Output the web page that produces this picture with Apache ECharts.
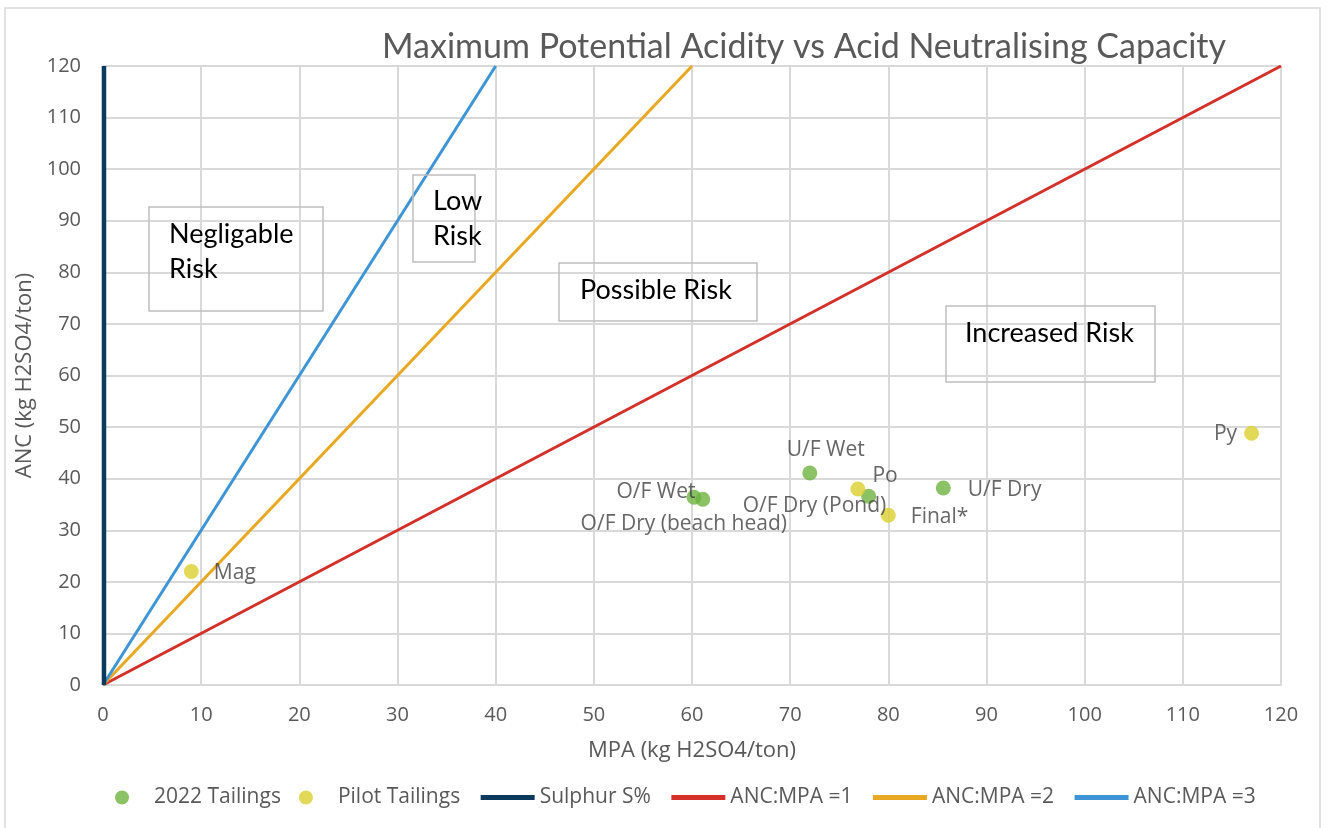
<!DOCTYPE html>
<html>
<head>
<meta charset="utf-8">
<script src="https://cdn.jsdelivr.net/npm/echarts@6/dist/echarts.min.js"></script>
<style>html,body{margin:0;padding:0;background:#fff;}#c{width:1330px;height:828px;}</style>
</head>
<body>
<div id="c"></div>
<script>
// Data
const tailings2022Names = ['O/F Wet', 'O/F Dry (beach head)', 'U/F Wet', 'O/F Dry (Pond)', 'U/F Dry'];
const tailings2022MPA = [60.2, 61.1, 72.0, 78.0, 85.6];
const tailings2022ANC = [36.4, 36.0, 41.1, 36.6, 38.2];

const pilotNames = ['Mag', 'Po', 'Final*', 'Py'];
const pilotMPA = [9.0, 76.9, 80.0, 117.0];
const pilotANC = [22.0, 38.0, 32.9, 48.8];

const sulphurLine = [[0.1, 0], [0.1, 120]];
const ratio1Line = [[0, 0], [120, 120]];
const ratio2Line = [[0, 0], [60, 120]];
const ratio3Line = [[0, 0], [40, 120]];

const xTicks = [0, 10, 20, 30, 40, 50, 60, 70, 80, 90, 100, 110, 120];
const yTicks = [0, 10, 20, 30, 40, 50, 60, 70, 80, 90, 100, 110, 120];

// label layout (styles)
const labelLayout2022 = [
  { position: 'left', offset: [14, -5] },
  { position: 'bottom', offset: [-19, 2] },
  { position: 'top', offset: [16, 0] },
  { position: 'left', offset: [30, 10] },
  { position: 'right', offset: [12, 2] }
];
const labelLayoutPilot = [
  { position: 'right', offset: [10, 1] },
  { position: 'right', offset: [2, -13] },
  { position: 'right', offset: [10, 2] },
  { position: 'left', offset: [-2, 1] }
];

const FONT = 'Open Sans';
const labelStyle = { show: true, color: '#404040', fontSize: 21, fontFamily: FONT };

function buildPoints(names, xs, ys, layouts) {
  return names.map((n, i) => ({
    name: n,
    value: [xs[i], ys[i]],
    label: Object.assign({}, labelStyle, { formatter: n }, layouts[i])
  }));
}

const chart = echarts.init(document.getElementById('c'));
const gray = '#595959';
const boxStyle = { fill: 'rgba(0,0,0,0)', stroke: '#bfbfbf', lineWidth: 1.5 };
const boxText = { fill: '#000', fontSize: 27, fontFamily: 'Lato', lineHeight: 35 };
const hiddenSymbol = { opacity: 0 };

chart.setOption({
  animation: false,
  backgroundColor: '#fff',
  title: {
    text: 'Maximum Potential Acidity vs Acid Neutralising Capacity',
    left: 799, top: 25, textAlign: 'center',
    textStyle: { color: gray, fontSize: 34, fontWeight: 'normal', fontFamily: 'Lato' }
  },
  grid: { left: 103, right: 49, top: 66, bottom: 143, containLabel: false },
  xAxis: {
    type: 'value', min: 0, max: 120, interval: 10,
    name: 'MPA (kg H2SO4/ton)', nameLocation: 'middle', nameGap: 55,
    nameTextStyle: { color: gray, fontSize: 22, fontFamily: FONT },
    axisLine: { show: true, lineStyle: { color: '#d9d9d9', width: 2 } },
    axisTick: { show: false },
    axisLabel: { color: gray, fontSize: 20, fontFamily: FONT, margin: 20,
      formatter: v => xTicks.includes(v) ? String(v) : '' },
    splitLine: { show: true, lineStyle: { color: '#d9d9d9', width: 2 } }
  },
  yAxis: {
    type: 'value', min: 0, max: 120, interval: 10,
    name: 'ANC (kg H2SO4/ton)', nameLocation: 'middle', nameGap: 64,
    nameTextStyle: { color: gray, fontSize: 22, fontFamily: FONT },
    axisLine: { show: false },
    axisTick: { show: false },
    axisLabel: { color: gray, fontSize: 20, fontFamily: FONT, margin: 22,
      formatter: v => yTicks.includes(v) ? String(v) : '' },
    splitLine: { show: true, lineStyle: { color: '#d9d9d9', width: 2 } }
  },
  legend: {
    bottom: 15, left: 110, itemGap: 18, itemWidth: 54, itemHeight: 14,
    textStyle: { color: gray, fontSize: 21, fontFamily: FONT },
    data: [
      { name: '2022 Tailings', icon: 'circle' },
      { name: 'Pilot Tailings', icon: 'circle' },
      { name: 'Sulphur S%', itemStyle: hiddenSymbol, lineStyle: { width: 5 } },
      { name: 'ANC:MPA =1', itemStyle: hiddenSymbol, lineStyle: { width: 5 } },
      { name: 'ANC:MPA =2', itemStyle: hiddenSymbol, lineStyle: { width: 5 } },
      { name: 'ANC:MPA =3', itemStyle: hiddenSymbol, lineStyle: { width: 5 } }
    ]
  },
  graphic: [
    { type: 'rect', shape: { x: 5, y: 8, width: 1315, height: 830 }, style: { fill: 'none', stroke: '#d9d9d9', lineWidth: 1.5 }, z: -1 },
    { type: 'rect', shape: { x: 149, y: 207, width: 174, height: 104 }, style: boxStyle, z: 10 },
    { type: 'text', left: 169, top: 217, style: Object.assign({ text: 'Negligable\nRisk' }, boxText), z: 11 },
    { type: 'rect', shape: { x: 413, y: 175, width: 62, height: 87 }, style: boxStyle, z: 10 },
    { type: 'text', left: 433, top: 184, style: Object.assign({ text: 'Low\nRisk' }, boxText), z: 11 },
    { type: 'rect', shape: { x: 559, y: 263, width: 198, height: 58 }, style: boxStyle, z: 10 },
    { type: 'text', left: 580, top: 273, style: Object.assign({ text: 'Possible Risk' }, boxText), z: 11 },
    { type: 'rect', shape: { x: 946, y: 306, width: 209, height: 76 }, style: boxStyle, z: 10 },
    { type: 'text', left: 965, top: 316, style: Object.assign({ text: 'Increased Risk' }, boxText), z: 11 }
  ],
  series: [
    {
      name: '2022 Tailings', type: 'scatter', symbolSize: 15, z: 5,
      itemStyle: { color: '#6db33f' },
      data: buildPoints(tailings2022Names, tailings2022MPA, tailings2022ANC, labelLayout2022)
    },
    {
      name: 'Pilot Tailings', type: 'scatter', symbolSize: 15, z: 5,
      itemStyle: { color: '#dccf2f' },
      data: buildPoints(pilotNames, pilotMPA, pilotANC, labelLayoutPilot)
    },
    { name: 'Sulphur S%', type: 'line', data: sulphurLine, symbol: 'none', z: 4,
      lineStyle: { color: '#0b3a5c', width: 4.5 }, itemStyle: { color: '#0b3a5c' } },
    { name: 'ANC:MPA =1', type: 'line', data: ratio1Line, symbol: 'none', z: 3,
      lineStyle: { color: '#d3302a', width: 3 }, itemStyle: { color: '#d3302a' } },
    { name: 'ANC:MPA =2', type: 'line', data: ratio2Line, symbol: 'none', z: 3,
      lineStyle: { color: '#e9a823', width: 3 }, itemStyle: { color: '#e9a823' } },
    { name: 'ANC:MPA =3', type: 'line', data: ratio3Line, symbol: 'none', z: 3,
      lineStyle: { color: '#3e95d5', width: 3 }, itemStyle: { color: '#3e95d5' } }
  ]
});
</script>
</body>
</html>
